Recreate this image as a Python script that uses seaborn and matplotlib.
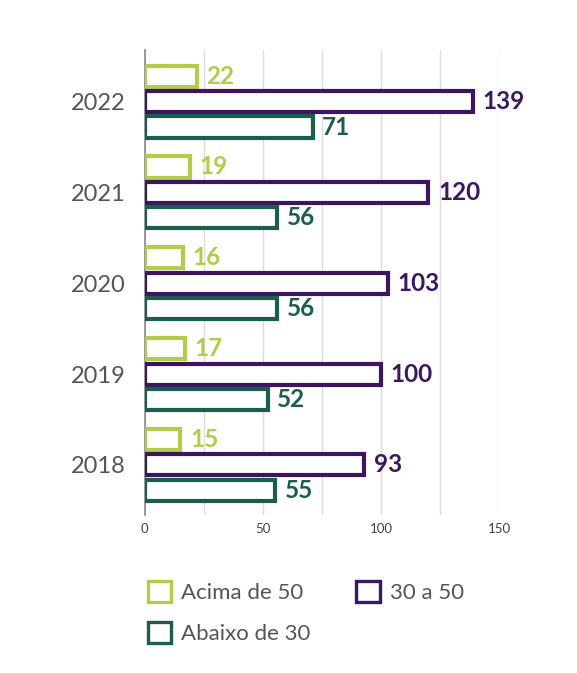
import numpy as np
import matplotlib.pyplot as plt
import pandas as pd
import seaborn as sns
from matplotlib.patches import Patch

years = ['2022', '2021', '2020', '2019', '2018']
groups = ['Acima de 50', '30 a 50', 'Abaixo de 30']
acima_50 = [22, 19, 16, 17, 15]
de_30_a_50 = [139, 120, 103, 100, 93]
abaixo_30 = [71, 56, 56, 52, 55]
colors = ['#b2cc4c', '#3c1760', '#1b5e50']

df = pd.DataFrame({
    'ano': years * 3,
    'grupo': [g for g in groups for _ in years],
    'valor': acima_50 + de_30_a_50 + abaixo_30,
})

sns.set_style('white')
plt.rcParams['font.family'] = ['Lato', 'DejaVu Sans']

fig = plt.figure(figsize=(5.77, 6.73), dpi=100)
ax = fig.add_axes([0.251, 0.235, 0.614, 0.691])

sns.barplot(data=df, y='ano', x='valor', hue='grupo', order=years, hue_order=groups,
            palette=colors, orient='h', fill=False, width=0.84, gap=0.17,
            linewidth=3, err_kws={'linewidth': 0}, legend=False, ax=ax)

# hollow bars: white fill, coloured edges, value at the end
for i, cont in enumerate(ax.containers):
    for bar in cont:
        bar.set_facecolor('white')
        bar.set_edgecolor(colors[i])
        bar.set_linewidth(3)
        bar.set_zorder(3)
    labels = ax.bar_label(cont, padding=7, fontsize=17.5, fontweight='bold', color=colors[i])
    for t in labels:
        t.set_clip_on(False)
        t.set_verticalalignment('center')

ax.set_xlim(0, 150)
ax.set_ylim(4.55, -0.57)
ax.set_xticks([0, 50, 100, 150])
ax.set_xticks([25, 75, 125], minor=True)
ax.tick_params(axis='x', length=0, labelsize=9.5, labelcolor='#444444', pad=6)
ax.tick_params(axis='y', length=0, labelsize=17, labelcolor='#555555', pad=14)
ax.grid(axis='x', which='both', color='#dddddd', linewidth=1)
ax.set_axisbelow(True)
ax.set_xlabel('')
ax.set_ylabel('')
for s in ['top', 'right', 'bottom']:
    ax.spines[s].set_visible(False)
ax.spines['left'].set_color('#888888')
ax.spines['left'].set_linewidth(1.2)

handles = [Patch(facecolor='white', edgecolor=colors[0], linewidth=2.4),
           Patch(facecolor='white', edgecolor=colors[2], linewidth=2.4),
           Patch(facecolor='white', edgecolor=colors[1], linewidth=2.4)]
names = [groups[0], groups[2], groups[1]]
fig.legend(handles, names, ncol=2, loc='upper left', bbox_to_anchor=(0.222, 0.166),
           frameon=False, fontsize=16, labelcolor='#555555', handlelength=1.05,
           handleheight=1.05, handletextpad=0.45, columnspacing=2.05, labelspacing=0.85)

plt.savefig('out.png', dpi=100)
